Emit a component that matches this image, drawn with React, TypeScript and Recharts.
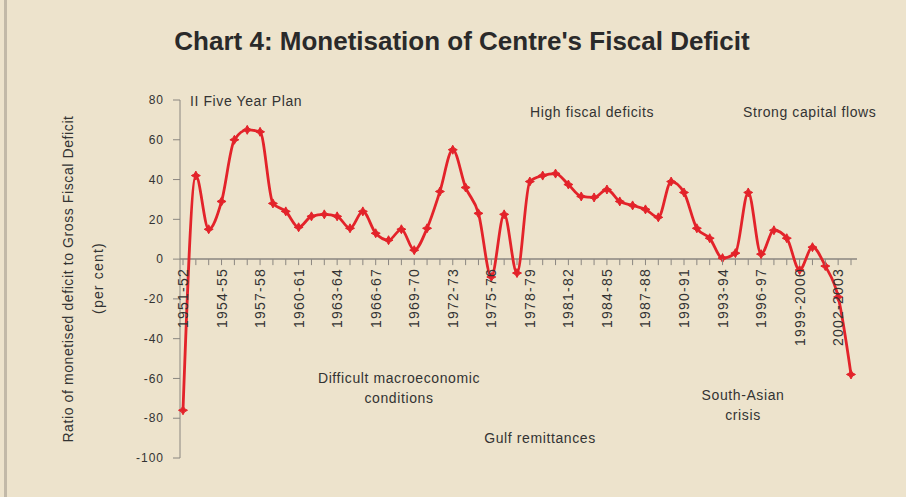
import React from 'react';
import { LineChart, Line, XAxis, YAxis, ReferenceLine } from 'recharts';

const years = [
  '1951-52', '1952-53', '1953-54', '1954-55', '1955-56', '1956-57', '1957-58', '1958-59', '1959-60',
  '1960-61', '1961-62', '1962-63', '1963-64', '1964-65', '1965-66', '1966-67', '1967-68', '1968-69',
  '1969-70', '1970-71', '1971-72', '1972-73', '1973-74', '1974-75', '1975-76', '1976-77', '1977-78',
  '1978-79', '1979-80', '1980-81', '1981-82', '1982-83', '1983-84', '1984-85', '1985-86', '1986-87',
  '1987-88', '1988-89', '1989-90', '1990-91', '1991-92', '1992-93', '1993-94', '1994-95', '1995-96',
  '1996-97', '1997-98', '1998-99', '1999-2000', '2000-01', '2001-02', '2002-2003', '2003-04',
];

const ratio = [
  -76, 42, 15, 29, 60, 65, 64, 28, 24,
  16, 21.5, 22.5, 21.5, 15.5, 24, 13, 9.5, 15,
  4.5, 15.5, 34, 55, 36, 23, -9, 22.5, -7,
  39, 42, 43, 37.5, 31.5, 31, 35, 29, 27,
  25, 21, 39, 33.5, 15.5, 10.5, 0.5, 3, 33.5,
  2.5, 14.5, 10.5, -5.5, 6, -3.5, -19, -58,
];

const yTicks = [80, 60, 40, 20, 0, -20, -40, -60, -80, -100];

const title = "Chart 4: Monetisation of Centre's Fiscal Deficit";
const yLabel1 = 'Ratio of monetised deficit to Gross Fiscal Deficit';
const yLabel2 = '(per cent)';

const annotations = [
  { text: 'II Five Year Plan', left: 190, top: 91, align: 'left' },
  { text: 'High fiscal deficits', left: 530, top: 102, align: 'left' },
  { text: 'Strong capital flows', left: 743, top: 102, align: 'left' },
  { text: 'Difficult macroeconomic\nconditions', left: 399, top: 368, align: 'center' },
  { text: 'Gulf remittances', left: 540, top: 428, align: 'center' },
  { text: 'South-Asian\ncrisis', left: 743, top: 385, align: 'center' },
];

const data = years.map((y, i) => ({ year: y, value: ratio[i] }));

const W = 906;
const H = 497;
const TOP = 100;
const BOTTOM_M = 38;
const PLOT_H = H - TOP - BOTTOM_M - 1;
const Y_MAX = 80;
const Y_MIN = -100;
const ZERO_Y = TOP + (PLOT_H * (Y_MAX - 0)) / (Y_MAX - Y_MIN);

const FONT = '"Liberation Sans", Arial, sans-serif';
const TEXT = '#333';
const AXIS = '#8a8680';
const RED = '#e3232a';

const XTick = (props: any) => {
  const { x, payload, index } = props;
  const show = index % 3 === 0;
  return (
    <g transform={`translate(${x},${ZERO_Y})`}>
      <line x1={0} x2={0} y1={0} y2={6} stroke={AXIS} strokeWidth={1} />
      {show && (
        <text
          transform="rotate(-90)"
          x={-9}
          y={0}
          dy={5}
          textAnchor="end"
          fill={TEXT}
          fontSize={14}
          letterSpacing={1.2}
          fontFamily={FONT}
        >
          {payload.value}
        </text>
      )}
    </g>
  );
};

const StarDot = (props: any) => {
  const { cx, cy } = props;
  if (cx == null || cy == null) return null;
  const r = 4.5;
  const s = 1.6;
  const pts = [
    [0, -r], [s, -s], [r, 0], [s, s], [0, r], [-s, s], [-r, 0], [-s, -s],
  ]
    .map(([a, b]) => `${cx + a},${cy + b}`)
    .join(' ');
  return <polygon points={pts} fill={RED} stroke={RED} strokeWidth={1} />;
};

export default function App() {
  return (
    <div
      style={{
        position: 'absolute',
        left: 0,
        top: 0,
        width: W,
        height: H,
        background: '#ede3cc',
        fontFamily: FONT,
        overflow: 'hidden',
      }}
    >
      <div
        style={{
          position: 'absolute',
          left: 4,
          top: 0,
          width: 3,
          height: H,
          background: '#c2b9a8',
        }}
      />
      <div
        style={{
          position: 'absolute',
          left: 0,
          top: 26,
          width: 924,
          textAlign: 'center',
          fontSize: 26,
          fontWeight: 'bold',
          color: '#2a2a2a',
        }}
      >
        {title}
      </div>
      <div
        style={{
          position: 'absolute',
          left: 68,
          top: 279,
          transform: 'translate(-50%,-50%) rotate(-90deg)',
          whiteSpace: 'nowrap',
          fontSize: 14,
          letterSpacing: 0.6,
          color: TEXT,
        }}
      >
        {yLabel1}
      </div>
      <div
        style={{
          position: 'absolute',
          left: 98,
          top: 278,
          transform: 'translate(-50%,-50%) rotate(-90deg)',
          whiteSpace: 'nowrap',
          fontSize: 14,
          letterSpacing: 1.2,
          color: TEXT,
        }}
      >
        {yLabel2}
      </div>
      <LineChart
        width={W}
        height={H}
        data={data}
        margin={{ top: TOP, right: 49, bottom: BOTTOM_M, left: 120 }}
      >
        <XAxis
          dataKey="year"
          height={1}
          axisLine={false}
          tickLine={false}
          interval={0}
          tick={<XTick />}
          padding={{ left: 3, right: 6 }}
        />
        <YAxis
          width={60}
          domain={[Y_MIN, Y_MAX]}
          ticks={yTicks}
          interval={0}
          tickSize={7}
          tickMargin={9}
          stroke={AXIS}
          tick={{ fill: TEXT, fontSize: 12, fontFamily: FONT, letterSpacing: 1 }}
          allowDataOverflow
        />
        <ReferenceLine y={0} stroke={AXIS} strokeWidth={1.5} ifOverflow="extendDomain" />
        <Line
          dataKey="value"
          type="monotone"
          stroke={RED}
          strokeWidth={2.8}
          dot={<StarDot />}
          activeDot={false}
          isAnimationActive={false}
        />
      </LineChart>
      {annotations.map((a, i) => (
        <div
          key={i}
          style={{
            position: 'absolute',
            left: a.align === 'center' ? a.left - 150 : a.left,
            top: a.top,
            width: a.align === 'center' ? 300 : undefined,
            textAlign: a.align as any,
            whiteSpace: 'pre',
            fontSize: 14,
            letterSpacing: 0.6,
            lineHeight: '20px',
            color: TEXT,
          }}
        >
          {a.text}
        </div>
      ))}
    </div>
  );
}
